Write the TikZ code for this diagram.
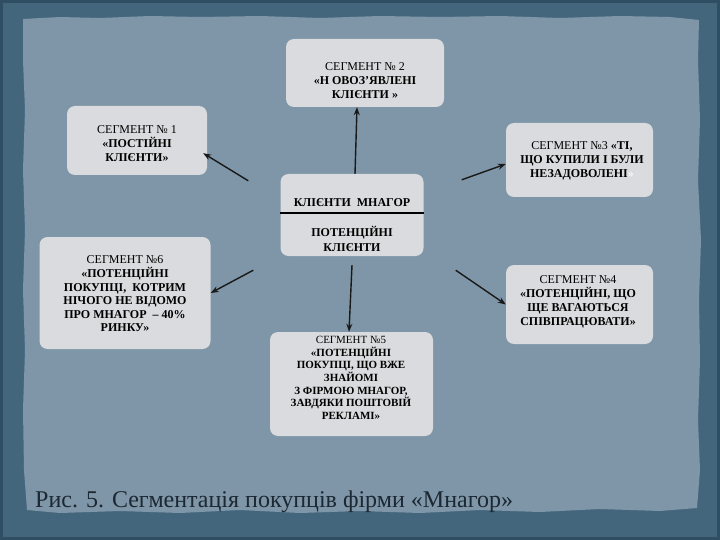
\documentclass[tikz,border=0pt]{standalone}
\usepackage{fontspec}
\setmainfont{Liberation Serif}
\usetikzlibrary{arrows.meta,calc}
\definecolor{outerc}{HTML}{44667D}
\definecolor{edgec}{HTML}{2F4E63}
\definecolor{panelc}{HTML}{7E96A7}
\definecolor{boxc}{HTML}{DADBDE}
\definecolor{captc}{HTML}{1C2833}
\tikzset{
  box/.style={fill=boxc, rounded corners=8pt, inner sep=0pt},
  txt/.style={align=center, font=\fontsize{12}{14}\selectfont, inner sep=0pt, text=black},
  smalltxt/.style={align=center, font=\fontsize{11}{12.6}\selectfont, inner sep=0pt, text=black},
  arr/.style={-{Stealth[length=8pt,width=6pt]}, line width=1.4pt, draw=black!90}
}
\begin{document}
\begin{tikzpicture}[x=1pt,y=-1pt]
\useasboundingbox (0,0) rectangle (720,540);
% background
\fill[outerc] (0,0) rectangle (720,540);
\draw[edgec, line width=3pt] (1.5,1.5) rectangle (718.5,538.5);
\fill[panelc] (23,19) -- (60,17) -- (100,18) -- (150,16) -- (200,17) -- (260,16) -- (320,18) -- (380,16) -- (440,17) -- (500,16) -- (560,18) -- (620,16) -- (670,17) -- (699,20)
  -- (698,60) -- (700,120) -- (698,180) -- (701,240) -- (699,300) -- (700,360) -- (698,420) -- (700,470) -- (697,508)
  -- (660,511) -- (600,509) -- (540,512) -- (480,510) -- (420,513) -- (360,511) -- (300,513) -- (240,510) -- (180,513) -- (120,511) -- (60,513) -- (27,510)
  -- (24,470) -- (23,410) -- (25,350) -- (23,290) -- (25,230) -- (23,170) -- (25,110) -- (23,60) -- cycle;

% boxes
\node[box, minimum width=158pt, minimum height=68pt] (s2) at (365,73) {};
\node[box, minimum width=140pt, minimum height=69pt] (s1) at (137,140.5) {};
\node[box, minimum width=147pt, minimum height=74pt] (s3) at (579.5,160) {};
\node[box, minimum width=143pt, minimum height=82pt] (c) at (352,215) {};
\node[box, minimum width=171pt, minimum height=112pt] (s6) at (125,293) {};
\node[box, minimum width=147pt, minimum height=79pt] (s4) at (579.5,304.5) {};
\node[box, minimum width=163pt, minimum height=104pt] (s5) at (351.5,384) {};

% divider in centre box
\draw[line width=1.2pt, black] (c.west |- 0,213) coordinate (dl) -- (c.east |- 0,213) coordinate (dr);

% texts
\node[txt] (s2t) at (365,81) {СЕГМЕНТ № 2\\\textbf{«Н ОВОЗ’ЯВЛЕНІ}\\\textbf{КЛІЄНТИ »}};
\node[txt] (s1t) at (137,144) {СЕГМЕНТ № 1\\\textbf{«ПОСТІЙНІ}\\\textbf{КЛІЄНТИ»}};
\node[txt] (s3t) at (582,161) {СЕГМЕНТ №3 \textbf{«ТІ,}\\\textbf{ЩО КУПИЛИ І БУЛИ}\\\textbf{НЕЗАДОВОЛЕНІ}\textcolor{white!85!boxc}{\textbf{»}}};
\node[txt, font=\bfseries\fontsize{12}{14}\selectfont] (ct1) at (352,203) {КЛІЄНТИ\ \ МНАГОР};
\node[txt, font=\bfseries\fontsize{12}{15}\selectfont] (ct2) at (352,239) {ПОТЕНЦІЙНІ\\КЛІЄНТИ};
\node[txt, font=\fontsize{12}{13.6}\selectfont] (s6t) at (125,294) {СЕГМЕНТ №6\\\textbf{«ПОТЕНЦІЙНІ}\\\textbf{ПОКУПЦІ,\ \ КОТРИМ}\\\textbf{НІЧОГО НЕ ВІДОМО}\\\textbf{ПРО МНАГОР\ \ – 40\%}\\\textbf{РИНКУ»}};
\node[txt] (s4t) at (578,302) {СЕГМЕНТ №4\\\textbf{«ПОТЕНЦІЙНІ, ЩО}\\\textbf{ЩЕ ВАГАЮТЬСЯ}\\\textbf{СПІВПРАЦЮВАТИ»}};
\node[smalltxt] (s5t) at (351,378) {СЕГМЕНТ №5\\\textbf{«ПОТЕНЦІЙНІ}\\\textbf{ПОКУПЦІ, ЩО ВЖЕ}\\\textbf{ЗНАЙОМІ}\\\textbf{З ФІРМОЮ МНАГОР,}\\\textbf{ЗАВДЯКИ ПОШТОВІЙ}\\\textbf{РЕКЛАМІ»}};

% arrow coordinates
\coordinate (a2s) at ($(c.north)+(3,0)$);
\coordinate (a2e) at ($(s2.south)+(-8,0)$);
\coordinate (a1s) at ($(c.north west)+(-32,7)$);
\coordinate (a1e) at ($(s1.south east)+(-4,-22)$);
\coordinate (a3s) at ($(c.north east)+(38,6)$);
\coordinate (a3e) at ($(s3.west)+(0,4)$);
\coordinate (a6s) at ($(c.south west)+(-27,14)$);
\coordinate (a6e) at ($(s6.east)+(0,0)$);
\coordinate (a4s) at ($(c.south east)+(32,14)$);
\coordinate (a4e) at ($(s4.west)+(0,0)$);
\coordinate (a5s) at ($(c.south)+(0,9)$);
\coordinate (a5e) at ($(s5.north)+(-2.5,0)$);

\draw[arr] (a2s) -- (a2e);
\draw[arr] (a1s) -- (a1e);
\draw[arr] (a3s) -- (a3e);
\draw[arr] (a6s) -- (a6e);
\draw[arr] (a4s) -- (a4e);
\draw[arr] (a5s) -- (a5e);

% caption
\node[anchor=base west, font=\fontsize{24}{28}\selectfont, text=captc, inner sep=0pt] (cap) at (35,507) {Рис. 5. Сегментація покупців фірми «Мнагор»};
\end{tikzpicture}
\end{document}
